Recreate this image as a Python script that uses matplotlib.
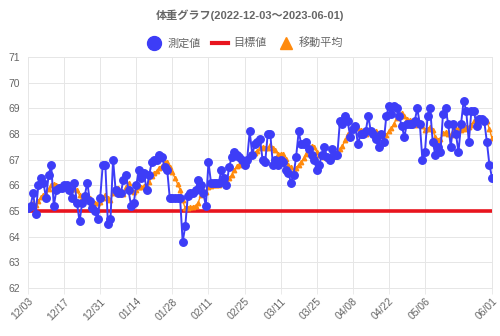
import matplotlib.pyplot as plt
from matplotlib.lines import Line2D
import pandas as pd

plt.rcParams['font.family'] = ['Liberation Sans', 'Noto Sans CJK JP']

# 2022-12-03 ～ 2023-06-01 (毎日)
dates = pd.date_range("2022-12-03", "2023-06-01", freq="D")

weight = [65.1, 65.2, 65.7, 64.9, 66.0, 66.3, 66.1, 65.5, 66.4, 66.8,
          65.2, 65.8, 65.9, 65.9, 66.0, 66.0, 65.8, 65.5, 66.1, 65.3,
          64.6, 65.3, 65.6, 66.1, 65.4, 65.1, 65.0, 64.7, 65.5, 66.8,
          66.8, 64.5, 64.7, 67.0, 65.8, 65.7, 65.7, 66.2, 66.4, 65.8,
          65.2, 65.3, 66.0, 66.6, 66.3, 66.5, 65.8, 66.4, 66.9, 67.0,
          67.0, 67.2, 67.1, 66.7, 66.6, 65.5, 65.5, 65.5, 65.5, 65.5,
          63.8, 64.4, 65.6, 65.7, 65.7, 65.8, 66.2, 66.0, 65.7, 65.2,
          66.9, 66.1, 66.1, 66.1, 66.1, 66.6, 66.3, 66.0, 66.7, 67.1,
          67.3, 67.2, 67.1, 67.0, 66.8, 67.0, 68.1, 67.2, 67.6, 67.7,
          67.8, 67.0, 66.9, 68.0, 68.0, 66.8, 67.0, 66.8, 67.0, 66.9,
          66.6, 66.5, 66.1, 66.4, 67.1, 68.1, 67.6, 67.6, 67.7, 67.4,
          67.2, 67.0, 66.6, 66.8, 67.2, 67.5, 67.1, 67.0, 67.4, 67.2,
          67.2, 68.5, 68.4, 68.7, 68.5, 67.9, 68.2, 68.3, 67.6, 68.0,
          68.0, 68.1, 68.7, 68.1, 68.0, 67.8, 67.5, 68.0, 67.7, 68.7,
          69.1, 68.8, 69.1, 69.0, 68.7, 68.3, 67.9, 68.4, 68.4, 68.4,
          68.5, 69.0, 68.4, 67.0, 67.3, 68.7, 69.0, 67.7, 67.2, 67.5,
          67.3, 68.8, 69.0, 68.4, 67.5, 68.4, 68.0, 67.3, 68.4, 69.3,
          68.9, 67.7, 68.9, 68.9, 68.3, 68.6, 68.6, 68.5, 67.7, 66.8,
          66.3]

moving_avg = [65.10, 65.15, 65.33, 65.23, 65.38, 65.53, 65.61, 65.67, 65.84, 66.00,
              66.04, 66.01, 65.96, 65.93, 66.00, 65.94, 65.80, 65.84, 65.89, 65.80,
              65.61, 65.51, 65.46, 65.50, 65.49, 65.34, 65.30, 65.31, 65.34, 65.51,
              65.61, 65.49, 65.43, 65.71, 65.87, 65.90, 65.74, 65.66, 65.93, 66.09,
              65.83, 65.76, 65.80, 65.93, 65.94, 65.96, 65.96, 66.13, 66.36, 66.50,
              66.56, 66.69, 66.77, 66.90, 66.93, 66.73, 66.51, 66.30, 66.06, 65.83,
              65.41, 65.10, 65.11, 65.14, 65.17, 65.21, 65.31, 65.63, 65.81, 65.76,
              65.93, 65.99, 66.03, 66.01, 66.03, 66.16, 66.31, 66.19, 66.27, 66.41,
              66.59, 66.74, 66.81, 66.91, 67.03, 67.07, 67.21, 67.20, 67.26, 67.34,
              67.46, 67.49, 67.47, 67.46, 67.57, 67.46, 67.36, 67.21, 67.21, 67.21,
              67.01, 66.80, 66.70, 66.61, 66.66, 66.81, 66.91, 67.06, 67.23, 67.41,
              67.53, 67.51, 67.30, 67.19, 67.13, 67.10, 67.06, 67.03, 67.09, 67.17,
              67.23, 67.41, 67.54, 67.77, 67.99, 68.06, 68.20, 68.36, 68.23, 68.17,
              68.07, 68.01, 68.13, 68.11, 68.07, 68.10, 68.03, 68.03, 67.97, 67.97,
              68.11, 68.23, 68.41, 68.63, 68.73, 68.81, 68.70, 68.60, 68.54, 68.44,
              68.37, 68.41, 68.43, 68.30, 68.14, 68.19, 68.27, 68.16, 67.90, 67.77,
              67.81, 68.03, 68.07, 67.99, 67.96, 68.13, 68.20, 68.20, 68.14, 68.19,
              68.26, 68.29, 68.36, 68.49, 68.63, 68.66, 68.56, 68.50, 68.50, 68.20,
              67.83]

target = 65.0

tick_dates = pd.to_datetime(["2022-12-03", "2022-12-17", "2022-12-31", "2023-01-14",
                             "2023-01-28", "2023-02-11", "2023-02-25", "2023-03-11",
                             "2023-03-25", "2023-04-08", "2023-04-22", "2023-05-06",
                             "2023-06-01"])
tick_labels = [d.strftime("%m/%d") for d in tick_dates]

blue = "#3d3df7"
red = "#e8141e"
orange = "#ff8a0d"
gray = "#666666"

fig = plt.figure(figsize=(5, 3.36), dpi=100)
ax = fig.add_axes([0.056, 0.143, 0.928, 0.687])

ax.axhline(target, color=red, lw=2.6, zorder=2)
ax.plot(dates, moving_avg, color=orange, lw=1.0, marker="^", ms=3.2, zorder=3)
ax.plot(dates, weight, color=blue, lw=1.4, marker="o", ms=5.4, zorder=4)

ax.set_ylim(62, 71)
ax.set_yticks(range(62, 72))
ax.set_xlim(dates[0], dates[-1])
ax.set_xticks(tick_dates)
ax.set_xticklabels(tick_labels, rotation=45, ha="right", rotation_mode="anchor")
ax.tick_params(colors=gray, labelsize=7.5, length=4, width=0.6)
ax.tick_params(axis="y", length=0, pad=6)
ax.tick_params(axis="x", color="#e6e6e6", pad=2)
ax.grid(True, color="#e6e6e6", lw=0.7)
for s in ax.spines.values():
    s.set_color("#e6e6e6")
    s.set_linewidth(0.7)

fig.text(0.5, 1 - 15 / 336, "体重グラフ(2022-12-03～2023-06-01)", ha="center", va="center",
         fontsize=8, fontweight="bold", color=gray)

handles = [Line2D([], [], color=blue, marker="o", ls="none", ms=10),
           Line2D([], [], color=red, lw=3),
           Line2D([], [], color=orange, marker="^", ls="none", ms=9)]
fig.legend(handles, ["測定値", "目標値", "移動平均"], loc="center", bbox_to_anchor=(0.49, 1 - 43 / 336),
           ncol=3, frameon=False, fontsize=8, labelcolor=gray, handlelength=1.4,
           handletextpad=0.5, columnspacing=1.0)

plt.savefig("out.png")
